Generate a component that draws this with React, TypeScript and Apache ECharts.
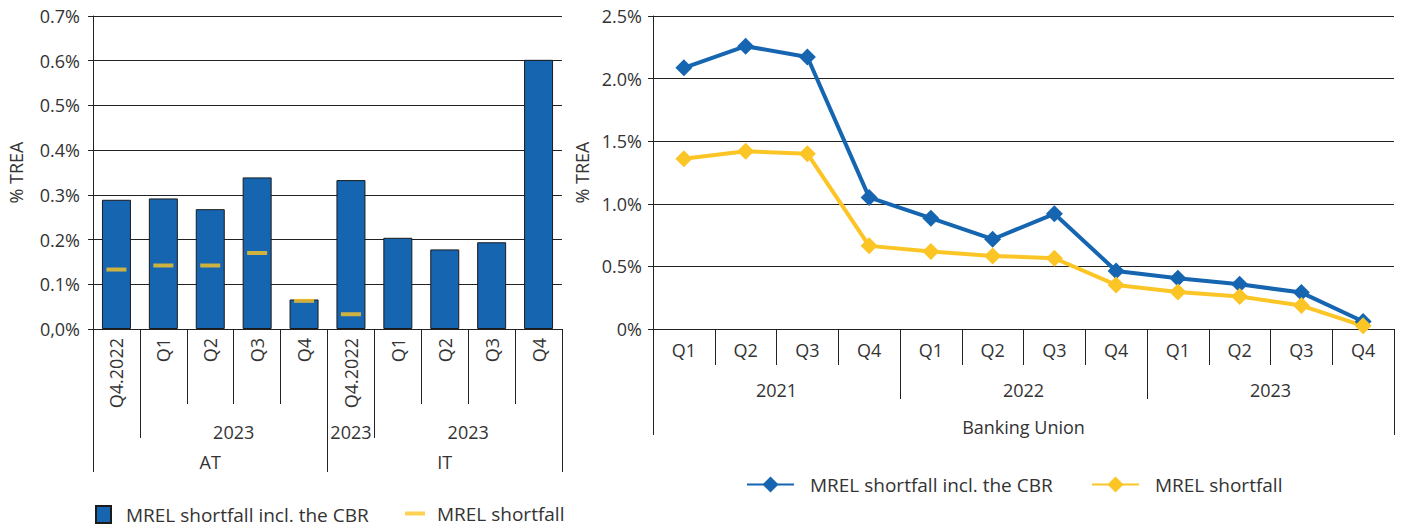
import React, { useEffect, useRef } from "react";
import * as echarts from "echarts";

const FONT = '"Open Sans", "Noto Sans", sans-serif';
const BLUE = "#1565b0";
const YELLOW = "#fcc526";
const TEXT = "#333333";
const LINE = "#222222";

// ---- Left chart data (AT / IT) ----
const leftCategories = ["Q4.2022", "Q1", "Q2", "Q3", "Q4", "Q4.2022", "Q1", "Q2", "Q3", "Q4"];
const leftYearLabels = ["", "2023", "2023", "2023"];
const leftYearSpans = [1, 4, 1, 4];
const leftCountryLabels = ["AT", "IT"];
const leftCountrySpans = [5, 5];
const leftCbrValues = [0.289, 0.292, 0.268, 0.339, 0.066, 0.333, 0.204, 0.178, 0.194, 0.602];
const leftShortfallValues = [0.133, 0.142, 0.142, 0.17, 0.063, 0.033, null, null, null, null];
const leftYTickLabels = ["0,0%", "0.1%", "0.2%", "0.3%", "0.4%", "0.5%", "0.6%", "0.7%"];

// ---- Right chart data (Banking Union) ----
const rightCategories = ["Q1", "Q2", "Q3", "Q4", "Q1", "Q2", "Q3", "Q4", "Q1", "Q2", "Q3", "Q4"];
const rightYearLabels = ["2021", "2022", "2023"];
const rightYearSpans = [4, 4, 4];
const rightRegionLabels = ["Banking Union"];
const rightRegionSpans = [12];
const rightCbrValues = [2.086, 2.259, 2.173, 1.051, 0.885, 0.717, 0.92, 0.464, 0.405, 0.357, 0.291, 0.06];
const rightShortfallValues = [1.36, 1.419, 1.4, 0.664, 0.619, 0.584, 0.565, 0.352, 0.296, 0.259, 0.187, 0.025];
const rightYTickLabels = ["0%", "0.5%", "1.0%", "1.5%", "2.0%", "2.5%"];

const seriesNames = ["MREL shortfall incl. the CBR", "MREL shortfall"];

const labelStyle = { fontSize: 18, color: TEXT, fontFamily: FONT };

function groupAxis(gridIndex: number, labels: string[], spans: number[], tickLength: number, labelMargin: number) {
  const bounds = [0];
  spans.forEach((s) => bounds.push(bounds[bounds.length - 1] + s));
  const total = bounds[bounds.length - 1];
  const centers = spans.map((s, i) => bounds[i] + s / 2);
  return {
    type: "value",
    gridIndex,
    position: "bottom",
    min: 0,
    max: total,
    axisLine: { show: false },
    splitLine: { show: false },
    axisPointer: { show: false },
    axisTick: { show: true, customValues: bounds, length: tickLength, lineStyle: { color: LINE, width: 1 } },
    axisLabel: {
      show: true,
      customValues: centers,
      margin: labelMargin,
      ...labelStyle,
      formatter: (v: number) => {
        const i = centers.findIndex((c) => Math.abs(c - v) < 1e-6);
        return i >= 0 ? labels[i] : "";
      },
    },
  };
}

export default function App() {
  const ref = useRef<HTMLDivElement>(null);

  useEffect(() => {
    document.body.style.margin = "0";
    if (!ref.current) return;
    const chart = echarts.init(ref.current, null, { renderer: "svg" });

    const option: any = {
      animation: false,
      textStyle: { fontFamily: FONT },
      grid: [
        { left: 93, top: 16, width: 469, height: 313 },
        { left: 653, top: 16, width: 741, height: 313 },
      ],
      xAxis: [
        {
          type: "category",
          gridIndex: 0,
          position: "bottom",
          data: leftCategories,
          axisLine: { show: true, lineStyle: { color: LINE, width: 1 } },
          axisTick: { show: true, length: 75, interval: 0, alignWithLabel: false, lineStyle: { color: LINE } },
          axisLabel: { rotate: 90, margin: 9, interval: 0, ...labelStyle },
        },
        groupAxis(0, leftYearLabels, leftYearSpans, 109, 94),
        groupAxis(0, leftCountryLabels, leftCountrySpans, 143, 124),
        {
          type: "category",
          gridIndex: 1,
          position: "bottom",
          data: rightCategories,
          axisLine: { show: true, lineStyle: { color: LINE, width: 1 } },
          axisTick: { show: true, length: 36, interval: 0, alignWithLabel: false, lineStyle: { color: LINE } },
          axisLabel: { margin: 12, interval: 0, ...labelStyle },
        },
        groupAxis(1, rightYearLabels, rightYearSpans, 70, 52),
        groupAxis(1, rightRegionLabels, rightRegionSpans, 106, 89),
      ],
      yAxis: [
        {
          type: "value",
          gridIndex: 0,
          min: 0,
          max: 0.7,
          interval: 0.1,
          name: "% TREA",
          nameLocation: "middle",
          nameGap: 68,
          nameTextStyle: { ...labelStyle },
          axisLine: { show: true, onZero: false, lineStyle: { color: LINE } },
          axisTick: { show: true, length: 5, lineStyle: { color: LINE } },
          splitLine: { show: true, lineStyle: { color: LINE, width: 1 } },
          axisLabel: {
            margin: 13,
            ...labelStyle,
            formatter: (v: number) => leftYTickLabels[Math.round(v / 0.1)] ?? "",
          },
        },
        {
          type: "value",
          gridIndex: 1,
          min: 0,
          max: 2.5,
          interval: 0.5,
          name: "% TREA",
          nameLocation: "middle",
          nameGap: 55,
          nameTextStyle: { ...labelStyle },
          axisLine: { show: true, onZero: false, lineStyle: { color: LINE } },
          axisTick: { show: true, length: 5, lineStyle: { color: LINE } },
          splitLine: { show: true, lineStyle: { color: LINE, width: 1 } },
          axisLabel: {
            margin: 11,
            ...labelStyle,
            formatter: (v: number) => rightYTickLabels[Math.round(v / 0.5)] ?? "",
          },
        },
      ],
      legend: [
        {
          left: 95,
          top: 505,
          padding: 0,
          icon: "rect",
          itemWidth: 15,
          itemHeight: 17,
          data: ["L|" + seriesNames[0]],
          formatter: (n: string) => n.split("|")[1],
          textStyle: { fontSize: 19, color: TEXT, fontFamily: FONT, padding: [0, 0, 0, 10] },
        },
        {
          left: 405,
          top: 504,
          padding: 0,
          icon: "rect",
          itemWidth: 20,
          itemHeight: 4,
          data: ["L|" + seriesNames[1]],
          formatter: (n: string) => n.split("|")[1],
          textStyle: { fontSize: 19, color: TEXT, fontFamily: FONT, padding: [0, 0, 0, 7] },
        },
        {
          left: 746,
          top: 475,
          padding: 0,
          itemWidth: 47,
          itemHeight: 20,
          data: ["R|" + seriesNames[0]],
          formatter: (n: string) => n.split("|")[1],
          textStyle: { fontSize: 19, color: TEXT, fontFamily: FONT, padding: [0, 0, 0, 11] },
        },
        {
          left: 1091,
          top: 475,
          padding: 0,
          itemWidth: 47,
          itemHeight: 20,
          data: ["R|" + seriesNames[1]],
          formatter: (n: string) => n.split("|")[1],
          textStyle: { fontSize: 19, color: TEXT, fontFamily: FONT, padding: [0, 0, 0, 11] },
        },
      ],
      series: [
        {
          name: "L|" + seriesNames[0],
          type: "bar",
          xAxisIndex: 0,
          yAxisIndex: 0,
          data: leftCbrValues,
          barWidth: 29,
          itemStyle: { color: BLUE, borderColor: "#1b1b1b", borderWidth: 1 },
        },
        {
          name: "L|" + seriesNames[1],
          type: "scatter",
          xAxisIndex: 0,
          yAxisIndex: 0,
          data: leftShortfallValues.map((v) => (v === null ? "-" : v)),
          symbol: "rect",
          symbolSize: [20, 4],
          itemStyle: { color: YELLOW },
          z: 5,
        },
        {
          name: "R|" + seriesNames[0],
          type: "line",
          xAxisIndex: 3,
          yAxisIndex: 1,
          data: rightCbrValues,
          symbol: "diamond",
          symbolSize: 17,
          lineStyle: { color: BLUE, width: 4 },
          itemStyle: { color: BLUE },
        },
        {
          name: "R|" + seriesNames[1],
          type: "line",
          xAxisIndex: 3,
          yAxisIndex: 1,
          data: rightShortfallValues,
          symbol: "diamond",
          symbolSize: 17,
          lineStyle: { color: YELLOW, width: 4 },
          itemStyle: { color: YELLOW },
        },
      ],
    };

    chart.setOption(option);
    return () => chart.dispose();
  }, []);

  return <div ref={ref} style={{ width: 1405, height: 529 }} />;
}
